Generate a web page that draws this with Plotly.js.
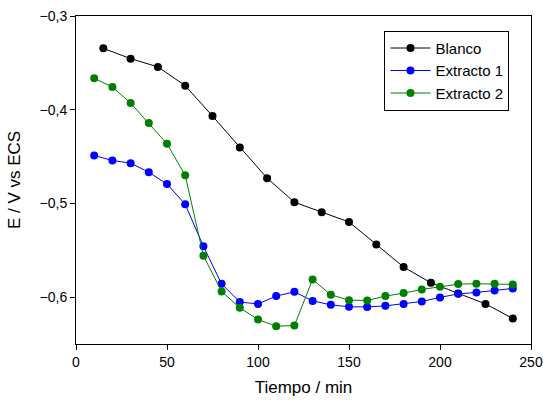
<!DOCTYPE html>
<html>
<head>
<meta charset="utf-8">
<script src="https://cdn.plot.ly/plotly-3.0.1.min.js"></script>
<style>html,body{margin:0;padding:0;background:#fff;}#chart{width:543px;height:408px;}</style>
</head>
<body>
<div id="chart"></div>
<script>
const blancoX = [15, 30, 45, 60, 75, 90, 105, 120, 135, 150, 165, 180, 195, 210, 225, 240];
const blancoY = [-0.3345, -0.3455, -0.3543, -0.3743, -0.4068, -0.4403, -0.4730, -0.4987, -0.5095, -0.5198, -0.5437, -0.5679, -0.5847, -0.5960, -0.6072, -0.6228];

const ext1X = [10, 20, 30, 40, 50, 60, 70, 80, 90, 100, 110, 120, 130, 140, 150, 160, 170, 180, 190, 200, 210, 220, 230, 240];
const ext1Y = [-0.4489, -0.4542, -0.4570, -0.4667, -0.4793, -0.5009, -0.5458, -0.5858, -0.6053, -0.6072, -0.5989, -0.5943, -0.6040, -0.6082, -0.6103, -0.6104, -0.6093, -0.6072, -0.6046, -0.6003, -0.5965, -0.5950, -0.5929, -0.5907];

const ext2X = [10, 20, 30, 40, 50, 60, 70, 80, 90, 100, 110, 120, 130, 140, 150, 160, 170, 180, 190, 200, 210, 220, 230, 240];
const ext2Y = [-0.3665, -0.3758, -0.3929, -0.4142, -0.4364, -0.4699, -0.5558, -0.5939, -0.6114, -0.6239, -0.6310, -0.6303, -0.5811, -0.5975, -0.6032, -0.6036, -0.5989, -0.5957, -0.5918, -0.5890, -0.5861, -0.5857, -0.5857, -0.5864];

const seriesNames = ['Blanco', 'Extracto 1', 'Extracto 2'];
const xTitle = 'Tiempo / min';
const yTitle = 'E / V vs ECS';

const font = 'Liberation Sans, Arial, sans-serif';
function tr(x, y, name, color) {
  return {
    x: x, y: y, name: name, type: 'scatter', mode: 'lines+markers',
    line: {color: color, width: 1},
    marker: {color: color, size: 8}
  };
}
const data = [
  tr(blancoX, blancoY, seriesNames[0], '#000000'),
  tr(ext1X, ext1Y, seriesNames[1], '#0000ff'),
  tr(ext2X, ext2Y, seriesNames[2], '#008000')
];
const axisCommon = {
  showline: true, mirror: true, linecolor: '#000', linewidth: 1,
  ticks: 'outside', ticklen: 5, tickwidth: 1, tickcolor: '#000',
  showgrid: false, zeroline: false,
  tickfont: {family: font, size: 14, color: '#000'}
};
const layout = {
  width: 543, height: 408,
  margin: {l: 76, r: 12, t: 16, b: 64},
  paper_bgcolor: '#fff', plot_bgcolor: '#fff',
  separators: ',.',
  font: {family: font, color: '#000'},
  showlegend: true,
  legend: {
    x: 0.678, y: 0.955, xanchor: 'left', yanchor: 'top',
    bordercolor: '#000', borderwidth: 1, bgcolor: '#fff',
    font: {family: font, size: 15, color: '#000'},
    itemwidth: 40
  },
  xaxis: Object.assign({}, axisCommon, {
    range: [0, 250], dtick: 50, tick0: 0,
    title: {text: xTitle, font: {family: font, size: 17, color: '#000'}, standoff: 12}
  }),
  yaxis: Object.assign({}, axisCommon, {
    range: [-0.65, -0.3], dtick: 0.1, tick0: -0.3, tickformat: '.1f',
    title: {text: yTitle, font: {family: font, size: 17, color: '#000'}, standoff: 14}
  })
};
Plotly.newPlot('chart', data, layout, {displayModeBar: false, staticPlot: true});
</script>
</body>
</html>
